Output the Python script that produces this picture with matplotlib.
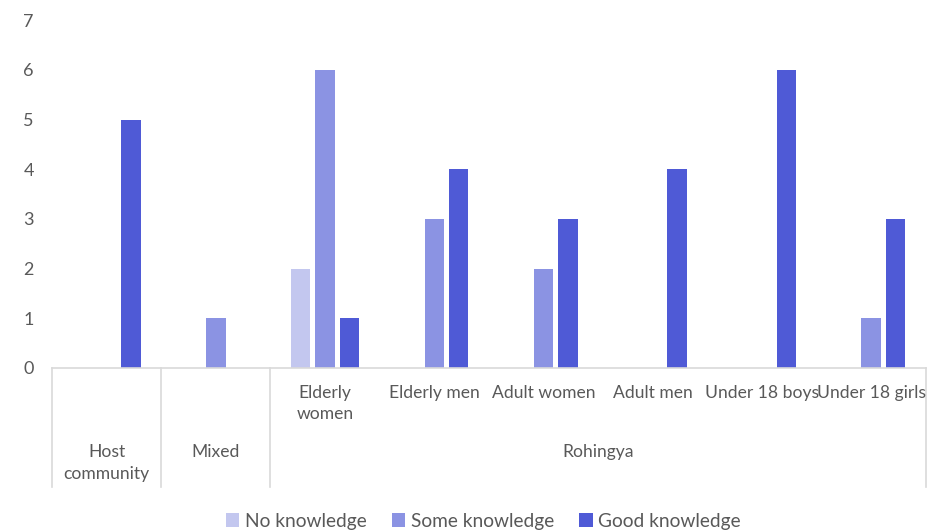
import matplotlib.pyplot as plt
import numpy as np

# dados do gráfico
grupos = ["Host\ncommunity", "Mixed", "Rohingya"]
grupo_inicio = [0, 1, 2]
grupo_fim = [0, 1, 7]
subcategorias = ["", "", "Elderly\nwomen", "Elderly men", "Adult women",
                 "Adult men", "Under 18 boys", "Under 18 girls"]
series = ["No knowledge", "Some knowledge", "Good knowledge"]
nenhum = [0, 0, 2, 0, 0, 0, 0, 0]
algum = [0, 1, 6, 3, 2, 0, 0, 1]
bom = [5, 0, 1, 4, 3, 4, 6, 3]
cores = ["#C3C7EF", "#8B93E3", "#4F5AD6"]

plt.rcParams['font.family'] = ['Lato', 'DejaVu Sans']
cinza = "#595959"
linha = "#D9D9D9"

fig = plt.figure(figsize=(9.37, 5.31), dpi=100)
ax = fig.add_axes([0.0555, 0.307, 0.9325, 0.655])

x = np.arange(len(subcategorias))
largura = 0.178
passo = 0.224
for i, (vals, nome) in enumerate(zip([nenhum, algum, bom], series)):
    ax.bar(x + (i - 1) * passo, vals, width=largura, color=cores[i], label=nome)

ax.set_xlim(-0.5, len(subcategorias) - 0.5)
ax.set_ylim(0, 7)
ax.set_yticks(range(0, 8))
ax.tick_params(axis='y', length=0, pad=13, labelsize=13, labelcolor=cinza)
ax.set_xticks([])
for s in ["top", "right", "left"]:
    ax.spines[s].set_visible(False)
ax.spines["bottom"].set_color(linha)
ax.spines["bottom"].set_linewidth(1.2)

trans = ax.get_xaxis_transform()
# rótulos das subcategorias
for xi, rot in zip(x, subcategorias):
    if rot:
        ax.text(xi, -0.072 if "\n" not in rot else -0.102, rot, transform=trans,
                ha='center', va='center', fontsize=12.6, color=cinza, linespacing=1.45)
# rótulos dos grupos
for nome, a, b in zip(grupos, grupo_inicio, grupo_fim):
    yy = -0.274 if "\n" in nome else -0.241
    ax.text((a + b) / 2, yy, nome, transform=trans, ha='center', va='center',
            fontsize=12.6, color=cinza, linespacing=1.45)
# separadores
for xs in [-0.5, 0.5, 1.5, 7.5]:
    ax.plot([xs, xs], [0, -0.342], transform=trans, color=linha, lw=1.2, clip_on=False)

fig.legend(loc='lower center', ncol=3, frameon=False, fontsize=13.8,
           bbox_to_anchor=(0.516, -0.03), handlelength=0.7, handleheight=0.7,
           handletextpad=0.3, columnspacing=1.3, labelcolor=cinza)

fig.savefig("out.png", dpi=100)
